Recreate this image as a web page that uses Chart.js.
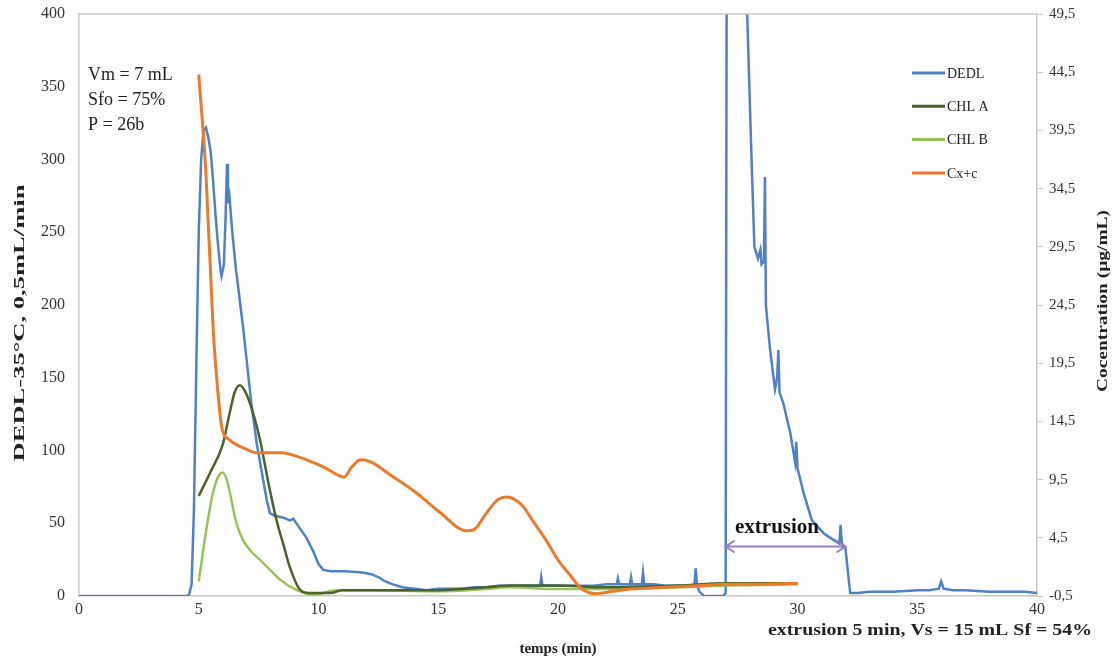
<!DOCTYPE html>
<html><head><meta charset="utf-8">
<script src="https://cdn.jsdelivr.net/npm/chart.js@4"></script>
<style>html,body{margin:0;padding:0;background:#fff}#wrap{width:1112px;height:660px;position:relative}</style>
</head><body><div id="wrap"><canvas id="c" width="1112" height="660"></canvas></div>
<script>
// ---- DATA ----
const dedlTime = [0,1,2,3,4,4.5,4.6,4.7,4.8,4.9,5.0,5.1,5.2,5.3,5.4,5.5,5.6,5.7,5.8,5.9,5.95,6.05,6.12,6.18,6.22,6.28,6.4,6.55,6.7,6.85,7.0,7.2,7.42,7.6,7.84,7.97,8.2,8.5,8.8,8.95,9.2,9.5,9.8,10.0,10.2,10.5,10.8,11.1,11.6,11.9,12.2,12.5,12.8,13.1,13.5,14,14.5,15,15.5,16,16.5,17,17.5,18,18.5,19,19.25,19.3,19.35,20,20.5,21,21.5,22,22.45,22.5,22.55,23,23.05,23.1,23.5,23.55,23.6,24,24.5,25,25.5,25.7,25.75,25.8,25.9,26.1,26.9,27.0,27.05,27.85,27.9,28.07,28.2,28.35,28.45,28.5,28.6,28.64,28.68,28.85,29.0,29.06,29.15,29.2,29.25,29.4,29.7,29.9,29.95,30.0,30.25,30.6,31.1,31.65,31.75,31.8,31.85,32.0,32.2,32.5,33,34,35,35.5,35.9,36,36.1,36.5,37,38,39,39.5,40];
const dedlSignal = [0,0,0,0,0,0,1,8,60,160,250,300,320,322,315,305,285,262,242,225,220,228,260,297,270,275,250,225,205,185,162,132,105,88,66,57,55,54,52,53,47,40,30,22,18,17,17,17,16.5,16,15,13,10,8,6,5,4,5,5,5,6,6,7,7,7,7,7,13,7,7,7,7,7,8,8,12,8,8,13,8,8,16,8,8,7,7,7,8,19,8,3,0,0,2,500,500,400,306,240,232,238,228,230,288,200,170,150,142,150,169,140,133,112,92,106,88,71,52,43,37,36,49,36,33,2,2,3,3,4,4,5,10,5,4,4,3,3,3,2];

const chlATime = [5.0,5.5,6.0,6.3,6.5,6.72,7.0,7.3,7.56,7.9,8.25,8.55,8.8,9.2,9.6,10.5,11,13,15,17,18,20,22,25,27,30];
const chlAConc = [8.1,10.2,12.5,15.3,17.0,17.6,16.8,15.0,12.9,9.3,6.0,3.8,2.0,0.1,-0.25,-0.25,0,0,0,0.25,0.4,0.4,0.25,0.4,0.6,0.6];

const chlBTime = [5.0,5.33,5.6,5.85,6.0,6.15,6.3,6.55,6.85,7.2,7.56,8.0,8.4,9.1,9.8,10.75,12,15,17,18,20,22,25,27,30];
const chlBConc = [0.75,5.4,8.4,9.9,10.1,9.6,8.4,5.9,4.3,3.3,2.6,1.7,0.9,0,-0.4,0,0,-0.1,0.1,0.25,0.1,0.1,0.25,0.4,0.5];

const cxcTime = [5.0,5.3,5.6,5.8,5.96,6.3,7.0,7.42,8.4,9.5,10.2,10.8,11.05,11.4,11.75,12.2,13,14,15,16.2,16.5,17,17.5,17.86,18.5,19,19.5,20,20.5,21,21.6,22.3,23,24,25,26,27,28,30];
const cxcConc = [44.3,35.8,22.5,17.0,14.0,12.9,12.1,11.8,11.8,11.2,10.6,9.9,9.7,10.6,11.2,11.0,9.9,8.5,6.8,5.1,5.2,6.6,7.8,8.0,7.3,5.8,4.3,2.6,1.3,0.1,-0.3,-0.1,0.1,0.2,0.3,0.4,0.5,0.5,0.6];

const seriesNames = ['DEDL','CHL A','CHL B','Cx+c'];
const xTickValues = [0,5,10,15,20,25,30,35,40];
const leftTickValues = [0,50,100,150,200,250,300,350,400];
const rightTickLabels = ['-0,5','4,5','9,5','14,5','19,5','24,5','29,5','34,5','39,5','44,5','49,5'];
const infoLines = ['Vm = 7 mL','Sfo = 75%','P = 26b'];
const extrusionStart = 27, extrusionEnd = 32, extrusionLevel = 34;
const extrusionLabel = 'extrusion';
const footnote = 'extrusion 5 min, Vs = 15 mL Sf = 54%';
const xTitle = 'temps (min)';
const yTitle = 'DEDL-35°C, 0,5mL/min';
const y2Title = 'Cocentration (µg/mL)';

// ---- STYLE ----
const colors = ['#4f81c7','#4a6328','#9bc25a','#ea7a2c'];
const SERIF = '"Liberation Serif","DejaVu Serif",serif';
const pts = (xs, ys) => xs.map((x,i)=>({x, y: ys[i]}));

function fitText(ctx, text, x, y, targetW, rotate) {
  const w = ctx.measureText(text).width;
  ctx.save(); ctx.translate(x, y); if (rotate) ctx.rotate(rotate);
  ctx.scale(targetW / w, 1); ctx.fillText(text, 0, 0); ctx.restore();
}
function noPad(s) { s.paddingTop = 0; s.paddingBottom = 0; s.paddingLeft = 0; s.paddingRight = 0; }

const overlay = {
  id:'overlay',
  afterDraw(chart){
    const {ctx, chartArea:a, scales} = chart;
    ctx.save();
    ctx.strokeStyle = '#c9c9c9'; ctx.lineWidth = 1.5;
    ctx.beginPath(); ctx.moveTo(a.left, a.top); ctx.lineTo(a.right, a.top); ctx.stroke();
    ctx.fillStyle = '#222'; ctx.font = '18px ' + SERIF; ctx.textAlign = 'left'; ctx.textBaseline = 'middle';
    infoLines.forEach((t,i)=>ctx.fillText(t, 88, 75 + i*25));
    ctx.font = '14px ' + SERIF;
    seriesNames.forEach((n,i)=>{
      const y = 73 + i*33.3;
      ctx.strokeStyle = colors[i]; ctx.lineWidth = 3;
      ctx.beginPath(); ctx.moveTo(912, y); ctx.lineTo(945, y); ctx.stroke();
      ctx.fillStyle = '#222'; ctx.fillText(n, 947, y+1);
    });
    const x1 = scales.x.getPixelForValue(extrusionStart), x2 = scales.x.getPixelForValue(extrusionEnd);
    const ya = scales.y.getPixelForValue(extrusionLevel);
    ctx.strokeStyle = '#9a7cc0'; ctx.lineWidth = 2;
    ctx.beginPath(); ctx.moveTo(x1, ya); ctx.lineTo(x2, ya);
    ctx.moveTo(x1+9, ya-6); ctx.lineTo(x1, ya); ctx.lineTo(x1+9, ya+6);
    ctx.moveTo(x2-9, ya-6); ctx.lineTo(x2, ya); ctx.lineTo(x2-9, ya+6);
    ctx.stroke();
    ctx.fillStyle = '#111'; ctx.font = 'bold 21px ' + SERIF; ctx.textAlign = 'left';
    ctx.fillText(extrusionLabel, 735, 528);
    ctx.font = 'bold 17px ' + SERIF; ctx.textAlign = 'right'; ctx.fillStyle = '#222';
    fitText(ctx, footnote, 1092, 631, 324, 0);
    ctx.textAlign = 'center';
    ctx.font = 'bold 15px ' + SERIF;
    ctx.fillText(xTitle, (a.left + a.right)/2, 649);
    ctx.font = 'bold 15px ' + SERIF;
    fitText(ctx, yTitle, 20, 323, 277, -Math.PI/2);
    ctx.font = 'bold 14px ' + SERIF;
    fitText(ctx, y2Title, 1103, 301, 182, -Math.PI/2);
    ctx.restore();
  }
};

new Chart(document.getElementById('c'), {
  type: 'line',
  data: {
    datasets: [
      {label: seriesNames[0], data: pts(dedlTime, dedlSignal), yAxisID: 'y', borderColor: colors[0], borderWidth: 2.5, tension: 0, pointRadius: 0, order: 4},
      {label: seriesNames[1], data: pts(chlATime, chlAConc), yAxisID: 'y2', borderColor: colors[1], borderWidth: 2.5, cubicInterpolationMode: 'monotone', pointRadius: 0, order: 2},
      {label: seriesNames[2], data: pts(chlBTime, chlBConc), yAxisID: 'y2', borderColor: colors[2], borderWidth: 2.5, cubicInterpolationMode: 'monotone', pointRadius: 0, order: 3},
      {label: seriesNames[3], data: pts(cxcTime, cxcConc), yAxisID: 'y2', borderColor: colors[3], borderWidth: 3, cubicInterpolationMode: 'monotone', pointRadius: 0, order: 1}
    ]
  },
  options: {
    responsive: false, animation: false,
    layout: {padding: {top: 14, left: 0, right: 0, bottom: 0}},
    plugins: {legend: {display: false}, tooltip: {enabled: false}},
    scales: {
      x: {type: 'linear', min: 0, max: 40,
        afterBuildTicks: s => { s.ticks = xTickValues.map(v=>({value:v})); },
        ticks: {font: {family: SERIF, size: 16}, color: '#333', padding: 4},
        grid: {display: false, drawTicks: false}, border: {color: '#c9c9c9', width: 1.5},
        afterFit: s => { s.height = 64; noPad(s); }},
      y: {position: 'left', min: 0, max: 400,
        afterBuildTicks: s => { s.ticks = leftTickValues.map(v=>({value:v})); },
        ticks: {font: {family: SERIF, size: 16}, color: '#333', padding: 14},
        grid: {display: false, drawTicks: false}, border: {color: '#c9c9c9', width: 1.5},
        afterFit: s => { s.width = 79; noPad(s); }},
      y2: {position: 'right', min: -0.5, max: 49.5,
        afterBuildTicks: s => { s.ticks = rightTickLabels.map((l,i)=>({value: -0.5 + i*5})); },
        ticks: {font: {family: SERIF, size: 15}, color: '#333', padding: 6,
          callback: (v, i) => rightTickLabels[i]},
        grid: {display: true, drawOnChartArea: false, drawTicks: true, tickLength: 6, color: '#c9c9c9'},
        border: {color: '#c9c9c9', width: 1.5},
        afterFit: s => { s.width = 75; noPad(s); }}
    }
  },
  plugins: [overlay]
});
</script>
</body></html>
